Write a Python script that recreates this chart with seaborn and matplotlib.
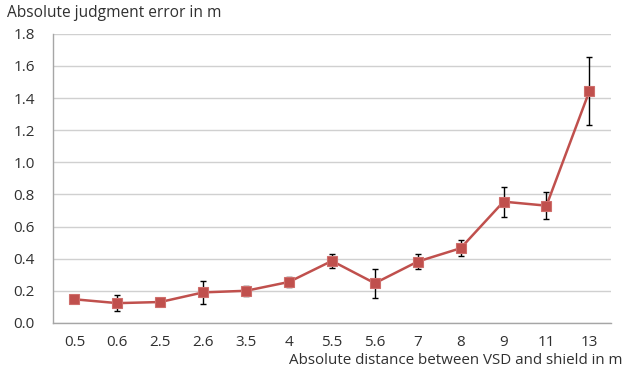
import numpy as np
import pandas as pd
import seaborn as sns
import matplotlib.pyplot as plt

# --------------------------------------------------
# DATA
# --------------------------------------------------

distances = ["0.5", "0.6", "2.5", "2.6", "3.5", "4", "5.5", "5.6", "7", "8", "9", "11", "13"]
mean_error = [0.147, 0.123, 0.13, 0.19, 0.20, 0.255, 0.386, 0.247, 0.382, 0.465, 0.755, 0.73, 1.443]
err = [0.0, 0.05, 0.0, 0.07, 0.03, 0.03, 0.045, 0.09, 0.045, 0.05, 0.094, 0.085, 0.21]

df = pd.DataFrame({"distance": distances, "error": mean_error, "err": err})

# --------------------------------------------------
# PLOT
# --------------------------------------------------

sns.set_style("white")
plt.rcParams["font.family"] = ["Open Sans", "DejaVu Sans"]

fig = plt.figure(figsize=(6.31, 3.72), dpi=100)
ax = fig.add_axes([0.084, 0.132, 0.884, 0.777])

pos = np.arange(len(distances))
red = "#C0504D"
ax.errorbar(pos, df["error"], yerr=df["err"], fmt="none", ecolor="black",
            elinewidth=1, capsize=2.5, capthick=1, zorder=3)
sns.lineplot(x=pos, y=df["error"], ax=ax, color=red, linewidth=1.8,
             marker="s", markersize=7, markeredgecolor="#CF6E6B",
             markeredgewidth=0.8, zorder=4)

ax.set_xlim(-0.5, len(distances) - 0.5)
ax.set_ylim(0, 1.8)
ax.set_yticks(np.arange(0, 1.81, 0.2))
ax.set_yticklabels([f"{v:.1f}" for v in np.arange(0, 1.81, 0.2)])
ax.yaxis.grid(True, color="#D0D0D0", linewidth=1)
ax.set_axisbelow(True)

# category boundaries as ticks, labels centered
ax.set_xticks(np.arange(-0.5, len(distances), 1.0))
ax.set_xticklabels([])
ax.set_xticks(pos, minor=True)
ax.set_xticklabels(distances, minor=True)
ax.tick_params(axis="x", which="major", direction="out", length=5,
               color="#A6A6A6", width=1)
ax.tick_params(axis="x", which="minor", length=0, pad=9, labelsize=11,
               colors="#303030")
ax.tick_params(axis="y", direction="out", length=5, color="#A6A6A6",
               width=1, labelsize=11, colors="#303030", pad=8)

for s in ["top", "right"]:
    ax.spines[s].set_visible(False)
for s in ["left", "bottom"]:
    ax.spines[s].set_color("#A6A6A6")
    ax.spines[s].set_linewidth(1)

ax.set_xlabel("")
ax.set_ylabel("")
fig.text(0.011, 0.965, "Absolute judgment error in m", fontsize=11.2,
         color="#303030", ha="left", va="center")
fig.text(0.987, 0.032, "Absolute distance between VSD and shield in m",
         fontsize=10.9, color="#303030", ha="right", va="center")

fig.savefig("out.png", dpi=100)
